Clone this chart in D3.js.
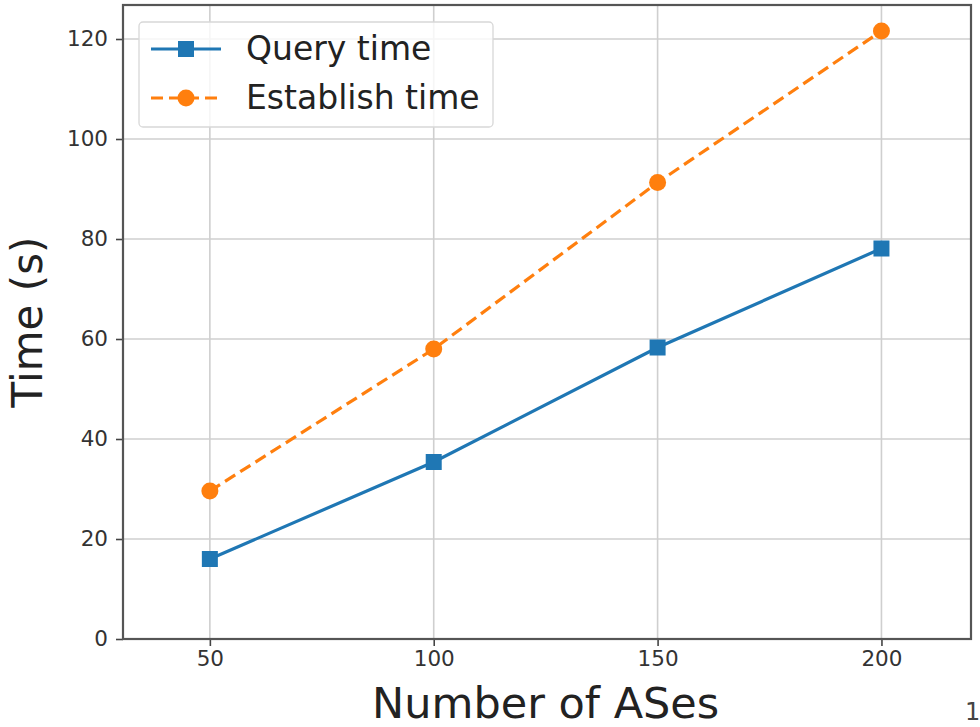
<!DOCTYPE html>
<html lang="en">
<head>
<meta charset="UTF-8">
<title>Query vs establish time</title>
<script src="https://d3js.org/d3.v7.min.js"></script>
<style>
    body { margin: 0; padding: 0; background: #fff; }
    svg { display: block; font-family: "DejaVu Sans", sans-serif; }
</style>
</head>
<body>
<svg id="chart" width="980" height="727"></svg>
<script>
var ases = [50, 100, 150, 200];
var queryTime = [16.0, 35.4, 58.3, 78.1];
var establishTime = [29.6, 58.0, 91.3, 121.6];
var xTicks = [50, 100, 150, 200];
var yTicks = [0, 20, 40, 60, 80, 100, 120];

var margin = {left: 123, right: 9, top: 5, bottom: 88};
var width = 980 - margin.left - margin.right;
var height = 727 - margin.top - margin.bottom;

var svg = d3.select('#chart');
var g = svg.append('g').attr('transform', 'translate(' + margin.left + ',' + margin.top + ')');

var x = d3.scaleLinear().domain([30.6, 220]).range([0, width]);
var y = d3.scaleLinear().domain([0, 126.8]).range([height, 0]);

// grid
g.append('g').selectAll('line').data(xTicks).join('line')
    .attr('x1', function (d) { return x(d); }).attr('x2', function (d) { return x(d); })
    .attr('y1', 0).attr('y2', height)
    .attr('stroke', '#cfcfcf').attr('stroke-width', 1.6);
g.append('g').selectAll('line').data(yTicks).join('line')
    .attr('y1', function (d) { return y(d); }).attr('y2', function (d) { return y(d); })
    .attr('x1', 0).attr('x2', width)
    .attr('stroke', '#cfcfcf').attr('stroke-width', 1.6);

// axes
var xAxis = g.append('g').attr('transform', 'translate(0,' + height + ')')
    .call(d3.axisBottom(x).tickValues(xTicks).tickSize(7).tickPadding(5));
var yAxis = g.append('g')
    .call(d3.axisLeft(y).tickValues(yTicks).tickSize(7).tickPadding(8));
[xAxis, yAxis].forEach(function (a) {
    a.select('.domain').remove();
    a.selectAll('.tick line').attr('stroke', '#444').attr('stroke-width', 1.6);
    a.selectAll('.tick text').attr('fill', '#333').attr('font-size', '21.5px')
        .attr('font-family', '"DejaVu Sans", sans-serif');
});

// frame
g.append('rect').attr('x', 0).attr('y', 0).attr('width', width).attr('height', height)
    .attr('fill', 'none').attr('stroke', '#555').attr('stroke-width', 2.2);

var line = d3.line()
    .x(function (d, i) { return x(ases[i]); })
    .y(function (d) { return y(d); });

g.append('path').datum(queryTime).attr('d', line)
    .attr('fill', 'none').attr('stroke', '#1f77b4').attr('stroke-width', 3.2);
g.append('g').selectAll('rect').data(queryTime).join('rect')
    .attr('x', function (d, i) { return x(ases[i]) - 8; })
    .attr('y', function (d) { return y(d) - 8; })
    .attr('width', 16).attr('height', 16).attr('fill', '#1f77b4');

g.append('path').datum(establishTime).attr('d', line)
    .attr('fill', 'none').attr('stroke', '#ff7f0e').attr('stroke-width', 3.2)
    .attr('stroke-dasharray', '12,6');
g.append('g').selectAll('circle').data(establishTime).join('circle')
    .attr('cx', function (d, i) { return x(ases[i]); })
    .attr('cy', function (d) { return y(d); })
    .attr('r', 8.5).attr('fill', '#ff7f0e');

// legend
var legend = svg.append('g').attr('transform', 'translate(139,22)');
legend.append('rect').attr('width', 354).attr('height', 105).attr('rx', 4)
    .attr('fill', '#fff').attr('fill-opacity', 0.8)
    .attr('stroke', '#d8d8d8').attr('stroke-width', 1.3);
var items = [
    {name: 'Query time', color: '#1f77b4', dash: null, marker: 'square'},
    {name: 'Establish time', color: '#ff7f0e', dash: '12,6', marker: 'circle'}
];
items.forEach(function (it, i) {
    var cy = 27 + i * 49;
    legend.append('line').attr('x1', 12).attr('x2', 82).attr('y1', cy).attr('y2', cy)
        .attr('stroke', it.color).attr('stroke-width', 3.2)
        .attr('stroke-dasharray', it.dash);
    if (it.marker === 'square') {
        legend.append('rect').attr('x', 39).attr('y', cy - 8).attr('width', 16).attr('height', 16)
            .attr('fill', it.color);
    } else {
        legend.append('circle').attr('cx', 47).attr('cy', cy).attr('r', 8.5).attr('fill', it.color);
    }
    legend.append('text').attr('x', 107).attr('y', cy + 11)
        .attr('font-size', '33px').attr('fill', '#222').text(it.name);
});

// axis titles
svg.append('text').attr('x', margin.left + x(125)).attr('y', 718)
    .attr('text-anchor', 'middle').attr('font-size', '43px').attr('fill', '#222')
    .text('Number of ASes');
svg.append('text').attr('transform', 'translate(42,' + (margin.top + height / 2) + ') rotate(-90)')
    .attr('text-anchor', 'middle').attr('font-size', '42px').attr('fill', '#222')
    .text('Time (s)');
svg.append('text').attr('x', 965).attr('y', 720).attr('font-size', '24px').attr('fill', '#444').text('1');
</script>
</body>
</html>
